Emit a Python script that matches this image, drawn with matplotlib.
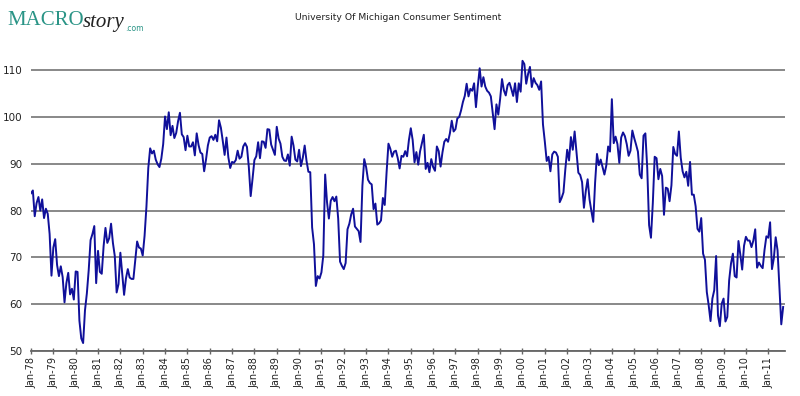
import numpy as np
import matplotlib.pyplot as plt

# University of Michigan consumer sentiment, monthly, Jan 1978 - Sep 2011
sentiment = [
    83.7, 84.3, 78.8, 81.6, 82.9, 80.0, 82.4, 78.4, 80.4, 79.3, 75.0, 66.1,   # 1978
    72.1, 73.9, 68.4, 66.0, 68.1, 65.8, 60.4, 64.5, 66.7, 62.1, 63.3, 61.0,   # 1979
    67.0, 66.9, 56.5, 52.7, 51.7, 58.7, 62.3, 67.3, 73.7, 75.0, 76.7, 64.5,   # 1980
    71.4, 66.9, 66.5, 72.4, 76.3, 73.1, 74.1, 77.2, 73.1, 70.3, 62.5, 64.3,   # 1981
    71.0, 66.5, 62.0, 65.5, 67.5, 65.7, 65.4, 65.4, 69.3, 73.4, 72.1, 71.9,   # 1982
    70.4, 74.6, 80.8, 89.1, 93.3, 92.2, 92.8, 90.9, 89.9, 89.3, 91.1, 94.2,   # 1983
    100.1, 97.4, 101.0, 96.1, 98.1, 95.5, 96.6, 99.1, 100.9, 96.3, 95.7, 92.9,  # 1984
    96.0, 93.7, 93.7, 94.6, 91.8, 96.5, 94.0, 92.4, 92.1, 88.4, 90.9, 93.9,   # 1985
    95.6, 95.9, 95.1, 96.2, 94.8, 99.3, 97.7, 94.9, 91.9, 95.6, 91.4, 89.1,   # 1986
    90.4, 90.2, 90.8, 92.8, 91.1, 91.5, 93.7, 94.4, 93.6, 89.3, 83.1, 86.8,   # 1987
    90.8, 91.6, 94.6, 91.2, 94.8, 94.7, 93.4, 97.4, 97.3, 94.1, 93.0, 91.9,   # 1988
    97.9, 95.4, 94.3, 91.5, 90.7, 90.6, 92.0, 89.6, 95.8, 93.9, 90.9, 90.5,   # 1989
    93.0, 89.5, 91.3, 93.9, 90.6, 88.3, 88.2, 76.4, 72.8, 63.9, 66.0, 65.5,   # 1990
    66.8, 70.4, 87.7, 81.8, 78.3, 82.1, 82.9, 82.0, 83.0, 78.3, 69.1, 68.2,   # 1991
    67.5, 68.8, 76.0, 77.2, 79.2, 80.4, 76.6, 76.1, 75.6, 73.3, 85.3, 91.0,   # 1992
    89.3, 86.6, 85.9, 85.6, 80.3, 81.5, 77.0, 77.3, 77.9, 82.7, 81.2, 88.2,   # 1993
    94.3, 93.2, 91.5, 92.6, 92.8, 91.2, 89.0, 91.7, 91.5, 92.7, 91.6, 95.1,   # 1994
    97.6, 95.1, 90.3, 92.5, 89.8, 92.7, 94.4, 96.2, 88.9, 90.2, 88.2, 91.0,   # 1995
    89.3, 88.5, 93.7, 92.7, 89.4, 92.4, 94.7, 95.3, 94.7, 96.5, 99.2, 96.9,   # 1996
    97.4, 99.7, 100.0, 101.4, 103.2, 104.5, 107.1, 104.4, 106.0, 105.6, 107.2, 102.1,  # 1997
    106.6, 110.4, 106.5, 108.5, 106.5, 105.6, 105.2, 104.4, 100.9, 97.4, 102.7, 100.5,  # 1998
    103.9, 108.1, 105.7, 104.6, 106.8, 107.3, 106.0, 104.5, 107.2, 103.2, 107.2, 105.4,  # 1999
    112.0, 111.3, 107.1, 109.2, 110.7, 106.4, 108.3, 107.3, 106.8, 105.8, 107.6, 98.4,  # 2000
    94.7, 90.6, 91.5, 88.4, 92.0, 92.6, 92.4, 91.5, 81.8, 82.7, 83.9, 88.8,   # 2001
    93.0, 90.7, 95.7, 93.0, 96.9, 92.4, 88.1, 87.6, 86.1, 80.6, 84.2, 86.7,   # 2002
    82.4, 79.9, 77.6, 86.0, 92.1, 89.7, 90.9, 89.3, 87.7, 89.6, 93.7, 92.6,   # 2003
    103.8, 94.4, 95.8, 94.2, 90.2, 95.6, 96.7, 95.9, 94.2, 91.7, 92.8, 97.1,  # 2004
    95.5, 94.1, 92.6, 87.7, 86.9, 96.0, 96.5, 89.1, 76.9, 74.2, 81.6, 91.5,   # 2005
    91.2, 86.7, 88.9, 87.4, 79.1, 84.9, 84.7, 82.0, 85.4, 93.6, 92.1, 91.7,   # 2006
    96.9, 91.3, 88.4, 87.1, 88.3, 85.3, 90.4, 83.4, 83.4, 80.9, 76.1, 75.5,   # 2007
    78.4, 70.8, 69.5, 62.6, 59.8, 56.4, 61.2, 63.0, 70.3, 57.6, 55.3, 60.1,   # 2008
    61.2, 56.3, 57.3, 65.1, 68.7, 70.8, 66.0, 65.7, 73.5, 70.6, 67.4, 72.5,   # 2009
    74.4, 73.6, 73.6, 72.2, 73.6, 76.0, 67.8, 68.9, 68.2, 67.7, 71.6, 74.5,   # 2010
    74.2, 77.5, 67.5, 69.8, 74.3, 71.5, 63.7, 55.7, 59.4,                     # 2011
]
years = list(range(1978, 2012))
year_labels = ["Jan-%02d" % (y % 100) for y in years]
y_ticks = [50, 60, 70, 80, 90, 100, 110]

fig = plt.figure(figsize=(8, 3.96), dpi=100)
ax = fig.add_axes([0.03875, 0.1136, 0.9425, 0.8274])

months = np.arange(len(sentiment))
ax.plot(months, sentiment, color="#10109a", lw=1.4, zorder=3)

ax.set_xlim(0, 405)
ax.set_ylim(50, 120)
ax.set_yticks(y_ticks)
ax.set_yticklabels([str(v) for v in y_ticks], fontsize=7.5, color="#222222")
ax.set_xticks([12 * i for i in range(len(years))])
ax.set_xticklabels(year_labels, rotation=90, fontsize=7, color="#222222")
ax.tick_params(axis="y", length=0, pad=6)
ax.tick_params(axis="x", direction="inout", length=5, width=1, color="#666666", pad=2)
ax.grid(axis="y", color="#7f7f7f", lw=1.3)
ax.set_axisbelow(True)
for s in ["top", "right", "left"]:
    ax.spines[s].set_visible(False)
ax.spines["bottom"].set_color("#666666")
ax.spines["bottom"].set_linewidth(1.3)

fig.text(0.4975, 0.955, "University Of Michigan Consumer Sentiment",
         ha="center", va="center", fontsize=6.7, color="#222222")

# logo
fig.text(0.009, 0.948, "MACRO", ha="left", va="center", fontsize=15,
         family="Liberation Serif", color="#2a9486")
fig.text(0.104, 0.942, "story", ha="left", va="center", fontsize=15,
         family="Liberation Serif", style="italic", color="#222222")
fig.text(0.157, 0.928, ".com", ha="left", va="center", fontsize=5.5,
         color="#2a9486")

fig.savefig("out.png", dpi=100)
